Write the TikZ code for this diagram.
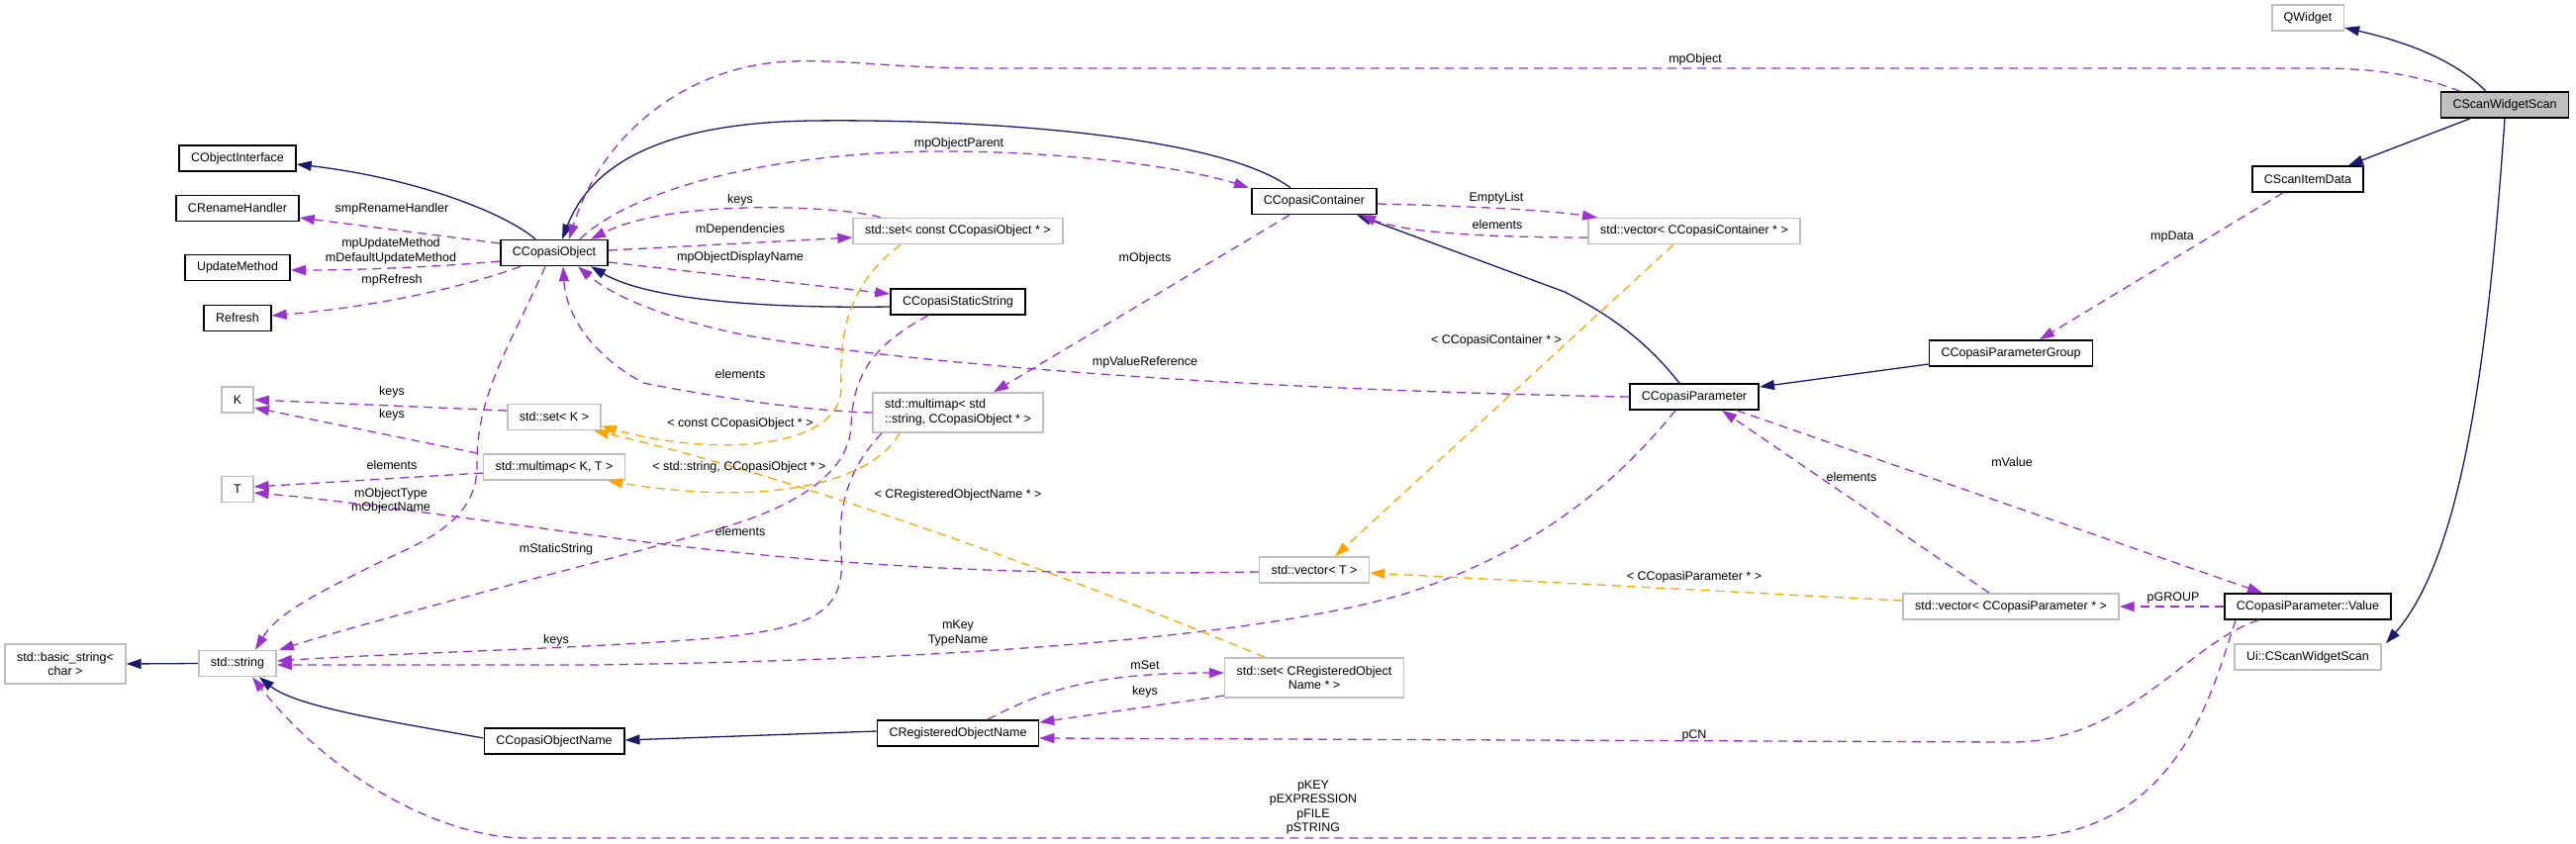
\documentclass[tikz,border=0pt]{standalone}
\usepackage{fontspec}
\setmainfont{Liberation Sans}
\usetikzlibrary{arrows.meta}
\definecolor{inhblue}{HTML}{191970}
\definecolor{usepurple}{HTML}{9A32CD}
\definecolor{tplorange}{HTML}{FFA500}
\definecolor{extgray}{HTML}{BFBFBF}
\tikzset{
	dox/.style={font=\fontsize{12.5}{14.5}\selectfont},
	cls/.style={dox, draw=black, fill=white, line width=1.6pt, minimum height=26pt, inner xsep=12pt, inner ysep=2pt, align=center},
	extcls/.style={cls, draw=extgray},
	lbl/.style={dox, inner sep=0pt, align=center},
	doxtip/.style={-{Triangle[length=15pt,width=10pt]}},
	inh/.style={doxtip, color=inhblue, line width=1.3pt},
	usage/.style={doxtip, color=usepurple, line width=1.3pt, dash pattern=on 9pt off 6pt},
	tpl/.style={doxtip, color=tplorange, line width=1.3pt, dash pattern=on 9pt off 6pt}
}

\begin{document}
\begin{tikzpicture}[x=1pt, y=-1pt]
		%%%%% START %%%%%
		\useasboundingbox (0,0) rectangle (2603,852);
		
		% classes
		\node[extcls, minimum height=40pt] (bstr) at (66,671) {std::basic\_string<\\char >};
		\node[cls] (coi) at (240,160) {CObjectInterface};
		\node[cls] (crh) at (240,210.5) {CRenameHandler};
		\node[cls] (upd) at (240,270.5) {UpdateMethod};
		\node[cls] (rfr) at (240,321.5) {Refresh};
		\node[extcls] (kk) at (240,404) {K};
		\node[extcls] (tt) at (240,494.5) {T};
		\node[extcls] (str) at (240,670.5) {std::string};
		
		\node[cls] (cobj) at (560,255.5) {CCopasiObject};
		\node[extcls] (setk) at (560,421.5) {std::set< K >};
		\node[extcls] (mmkt) at (560,472) {std::multimap< K, T >};
		\node[cls] (con) at (560,749) {CCopasiObjectName};
		
		\node[extcls] (setco) at (968,233.5) {std::set< const CCopasiObject * >};
		\node[cls] (css) at (968,305) {CCopasiStaticString};
		\node[extcls, minimum height=40pt, align=left] (mmstr) at (968,417) {std::multimap< std\\::string, CCopasiObject * >};
		\node[cls] (rnm) at (968,741) {CRegisteredObjectName};
		
		\node[cls] (ccont) at (1328,203.5) {CCopasiContainer};
		\node[extcls] (vect) at (1328,576) {std::vector< T >};
		\node[extcls, minimum height=40pt] (setrn) at (1328,685) {std::set< CRegisteredObject\\Name * >};
		
		\node[extcls] (vcont) at (1712,233.5) {std::vector< CCopasiContainer * >};
		\node[cls] (cpar) at (1712,401) {CCopasiParameter};
		\node[cls] (cpg) at (2032,357) {CCopasiParameterGroup};
		\node[extcls] (vpar) at (2032,613) {std::vector< CCopasiParameter * >};
		
		\node[extcls] (qw) at (2332,18) {QWidget};
		\node[cls] (csid) at (2332,181) {CScanItemData};
		\node[cls] (val) at (2332,613) {CCopasiParameter::Value};
		\node[extcls] (ui) at (2332,664) {Ui::CScanWidgetScan};
		\node[cls, fill=extgray] (csws) at (2531,106) {CScanWidgetScan};
		
		% inheritance
		\draw[inh] ([xshift=-19pt]cobj.north) .. controls (510,215) and (420,180) .. ([yshift=-6pt]coi.east);
		\draw[inh] ([xshift=-24pt]ccont.north) .. controls (1230,135) and (980,120) .. (820,122) .. controls (680,124) and (600,160) .. ([xshift=8pt]cobj.north);
		\draw[inh] ([yshift=-5pt]css.west) .. controls (750,312) and (650,300) .. ([xshift=37pt]cobj.south);
		\draw[inh] ([xshift=-15pt]cpar.north) .. controls (1660,340) and (1620,315) .. (1581,295) -- ([xshift=43pt]ccont.south);
		\draw[inh] ([yshift=-11pt]cpg.west) -- ([yshift=10pt]cpar.east);
		\draw[inh] ([xshift=-19pt]csws.north) .. controls (2480,60) and (2430,42) .. ([yshift=-10pt]qw.east);
		\draw[inh] ([xshift=-35pt]csws.south) -- ([xshift=41pt]csid.north);
		\draw[inh] (csws.south) .. controls (2515,350) and (2490,560) .. ([xshift=79pt]ui.north);
		\draw[inh] ([yshift=2pt]rnm.west) -- ([yshift=1pt]con.east);
		\draw[inh] ([yshift=3pt]con.west) .. controls (400,730) and (300,715) .. ([xshift=22pt]str.south);
		\draw[inh] (str.west) -- (bstr.east);
		
		% members
		\draw[usage] ([xshift=-45pt]csws.north) .. controls (2440,75) and (2400,69) .. (2340,69) -- (1000,69) .. controls (900,69) and (860,60) .. (800,62) .. controls (700,65) and (610,130) .. ([xshift=15pt]cobj.north);
		\draw[usage] ([xshift=26pt]cobj.north) .. controls (640,190) and (780,155) .. (940,153) .. controls (1080,152) and (1200,170) .. ([xshift=-66pt]ccont.north);
		\draw[usage] ([xshift=-78pt]setco.north) .. controls (850,208) and (680,200) .. ([xshift=37pt]cobj.north);
		\draw[usage] ([yshift=2.5pt]cobj.east) -- ([yshift=-6.5pt]setco.west);
		\draw[usage] ([yshift=-9.5pt]cobj.east) -- ([yshift=8pt]css.west);
		\draw[usage] ([yshift=9.5pt]cobj.west) -- ([yshift=-9.5pt]crh.east);
		\draw[usage] ([yshift=-8.5pt]cobj.west) .. controls (440,270) and (360,273) .. ([yshift=-2.5pt]upd.east);
		\draw[usage] ([xshift=-34pt]cobj.south) .. controls (470,290) and (380,310) .. ([yshift=2.5pt]rfr.east);
		\draw[usage] ([yshift=-6.5pt]vcont.west) .. controls (1500,240) and (1420,235) .. ([xshift=47pt]ccont.south);
		\draw[usage] ([yshift=-2.5pt]ccont.east) .. controls (1480,208) and (1560,212) .. ([xshift=-98pt]vcont.north);
		\draw[usage] ([xshift=-25pt]ccont.south) -- ([xshift=36pt]mmstr.north);
		\draw[usage] (mmstr.west) .. controls (800,415) and (690,395) .. (650,387) .. controls (600,360) and (572,320) .. ([xshift=9pt]cobj.south);
		\draw[usage] (cpar.west) .. controls (1300,395) and (950,372) .. (760,340) .. controls (680,325) and (620,300) .. ([xshift=24pt]cobj.south);
		\draw[usage] ([xshift=-9pt]cobj.south) .. controls (515,350) and (481,400) .. (482,470) .. controls (483,530) and (420,550) .. (380,570) .. controls (320,600) and (280,620) .. ([xshift=18pt]str.north);
		\draw[usage] ([xshift=-30pt]css.south) .. controls (880,350) and (862,380) .. (860,430) .. controls (858,480) and (800,515) .. (717,537) .. controls (600,570) and (400,620) .. ([xshift=42pt]str.north);
		\draw[usage] ([xshift=-77pt]mmstr.south) .. controls (860,470) and (845,510) .. (850,560) .. controls (855,620) and (820,635) .. (720,645) .. controls (600,655) and (400,660) .. ([yshift=2.5pt]str.east);
		\draw[usage] ([xshift=-19pt]cpar.south) .. controls (1640,480) and (1560,555) .. (1420,600) .. controls (1250,650) and (900,668) .. (600,672) -- ([yshift=-1.5pt]str.east);
		\draw[usage] ([xshift=43pt]cpar.south) -- ([xshift=-46pt]val.north);
		\draw[usage] ([xshift=-22pt]vpar.north) -- ([xshift=28pt]cpar.south);
		\draw[usage] (val.west) -- (vpar.east);
		\draw[usage] ([xshift=-50pt]val.south) .. controls (2210,650) and (2150,750) .. (2033,750) -- ([yshift=-5pt]rnm.east);
		\draw[usage] ([xshift=-73pt]val.south) .. controls (2235,700) and (2200,847) .. (2033,847) -- (533,847) .. controls (440,847) and (330,780) .. ([xshift=15pt]str.south);
		\draw[usage] ([xshift=30pt]rnm.north) .. controls (1050,700) and (1100,680) .. ([yshift=5pt]setrn.west);
		\draw[usage] ([yshift=-18pt]setrn.west) -- ([yshift=11pt]rnm.east);
		\draw[usage] ([xshift=-25pt]csid.south) -- ([xshift=29pt]cpg.north);
		\draw[usage] ([yshift=6.5pt]setk.west) -- (kk.east);
		\draw[usage] ([xshift=-77pt]mmkt.north) -- ([yshift=-8pt]kk.east);
		\draw[usage] ([yshift=-6pt]mmkt.west) -- ([yshift=2.5pt]tt.east);
		\draw[usage] ([yshift=-2pt]vect.west) .. controls (1050,582) and (850,575) .. (600,541) .. controls (450,521) and (340,505) .. ([yshift=-3.5pt]tt.east);
		
		% template instances
		\draw[tpl] ([xshift=-58pt]setco.south) .. controls (860,285) and (848,330) .. (850,390) .. controls (852,455) and (720,462) .. ([yshift=-9pt]setk.east);
		\draw[tpl] ([xshift=-59pt]mmstr.south) .. controls (880,490) and (770,512) .. ([xshift=54pt]mmkt.south);
		\draw[tpl] ([xshift=-50pt]setrn.north) .. controls (1100,590) and (800,480) .. ([xshift=40pt]setk.south);
		\draw[tpl] ([xshift=-21pt]vcont.south) -- ([xshift=21pt]vect.north);
		\draw[tpl] ([yshift=6pt]vpar.west) -- ([yshift=-3pt]vect.east);
		
		% labels
		\node[lbl] (lmpobj) at (1713,60) {mpObject};
		\node[lbl] (lparent) at (969,145) {mpObjectParent};
		\node[lbl] (lkeysco) at (748,202) {keys};
		\node[lbl] (ldeps) at (748,232) {mDependencies};
		\node[lbl] (ldisp) at (748,260) {mpObjectDisplayName};
		\node[lbl] (lrename) at (396,211) {smpRenameHandler};
		\node[lbl] (lupdate) at (395,254) {mpUpdateMethod\\mDefaultUpdateMethod};
		\node[lbl] (lrefresh) at (396,283) {mpRefresh};
		\node[lbl] (lempty) at (1512,200) {EmptyList};
		\node[lbl] (lelcont) at (1513,227) {elements};
		\node[lbl] (lobjs) at (1157,261) {mObjects};
		\node[lbl] (lvalref) at (1157,366) {mpValueReference};
		\node[lbl] (ldata) at (2195,239) {mpData};
		\node[lbl] (ltcont) at (1512,344) {< CCopasiContainer * >};
		\node[lbl] (lelmm) at (748,378) {elements};
		\node[lbl] (lkeysk) at (396,396) {keys};
		\node[lbl] (lkeyskt) at (396,419) {keys};
		\node[lbl] (lelkt) at (396,470) {elements};
		\node[lbl] (ltco) at (748,428) {< const CCopasiObject * >};
		\node[lbl] (ltstr) at (747,472) {< std::string, CCopasiObject * >};
		\node[lbl] (lobjname) at (395,506.5) {mObjectType\\mObjectName};
		\node[lbl] (ltrn) at (968,500) {< CRegisteredObjectName * >};
		\node[lbl] (lelvt) at (748,537) {elements};
		\node[lbl] (lstatic) at (562,555) {mStaticString};
		\node[lbl] (lelpar) at (1871,482) {elements};
		\node[lbl] (lvalue) at (2033,467) {mValue};
		\node[lbl] (ltpar) at (1712,583) {< CCopasiParameter * >};
		\node[lbl] (lgroup) at (2196,604) {pGROUP};
		\node[lbl] (lkeysstr) at (562,647) {keys};
		\node[lbl] (lkey) at (968,640) {mKey\\TypeName};
		\node[lbl] (lset) at (1157,672) {mSet};
		\node[lbl] (lkeysrn) at (1157,699) {keys};
		\node[lbl] (lcn) at (1712,743) {pCN};
		\node[lbl] (lpkey) at (1327,816) {pKEY\\pEXPRESSION\\pFILE\\pSTRING};
		
		%%%%% END %%%%%
\end{tikzpicture}
\end{document}
